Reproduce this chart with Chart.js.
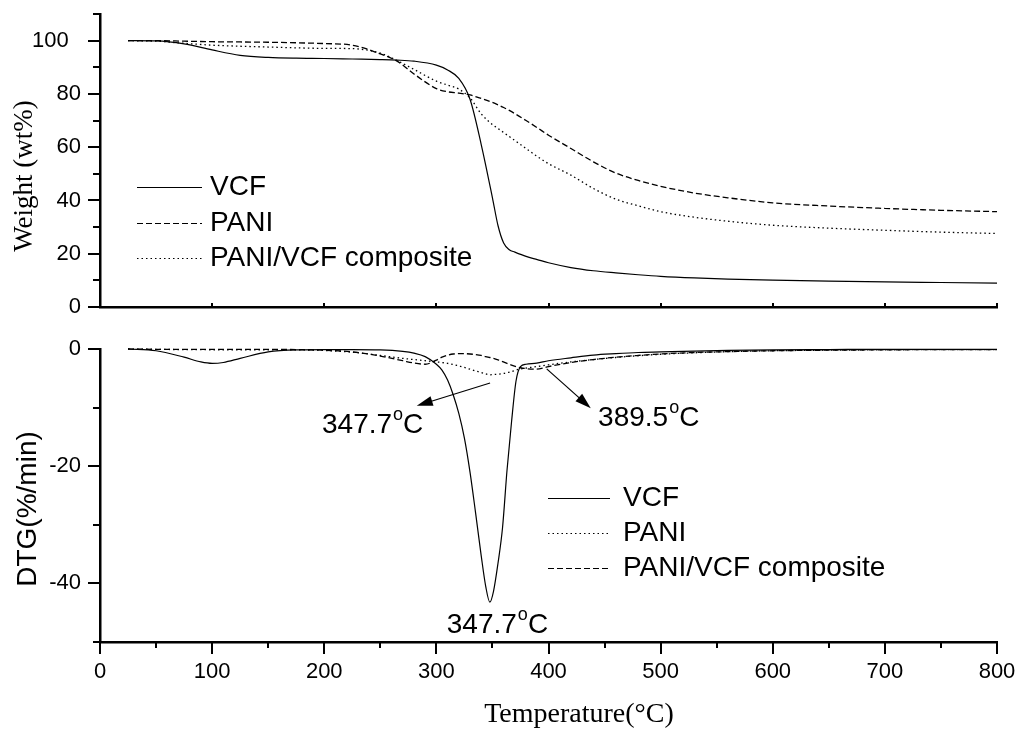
<!DOCTYPE html>
<html>
<head>
<meta charset="utf-8">
<script src="https://cdn.jsdelivr.net/npm/chart.js@4.4.1/dist/chart.umd.min.js"></script>
<style>
  html, body { margin: 0; padding: 0; background: #fff; }
  #wrap { position: relative; width: 1016px; height: 730px; }
  canvas { position: absolute; left: 0; }
</style>
</head>
<body>
<div id="wrap">
  <canvas id="tga" width="1016" height="320" style="top:0"></canvas>
  <canvas id="dtg" width="1016" height="410" style="top:320px"></canvas>
</div>
<script>
// TGA curves (weight %)
const tgaTemp = [25, 50, 75, 100, 125, 150, 175, 200, 225, 250, 265, 280, 300, 310, 320, 330, 340, 350, 355, 360,
  365, 370, 380, 390, 400, 420, 440, 460, 480, 500, 530, 560, 600, 650, 700, 750, 800];
const tgaVCF = [100, 99.9, 98.8, 96.5, 94.5, 93.7, 93.4, 93.3, 93.1, 92.9, 92.7, 92.3, 90.8, 89.0, 85.8, 78.0, 61.0, 41.0, 30.5, 24.0,
  21.5, 20.6, 19.0, 17.8, 16.6, 14.8, 13.6, 12.8, 12.1, 11.5, 10.9, 10.5, 10.1, 9.7, 9.4, 9.2, 9.0];
const tgaPANI = [100, 100, 99.8, 99.6, 99.5, 99.4, 99.2, 98.9, 98.3, 95.0, 92.3, 87.5, 82.0, 80.8, 80.3, 79.6, 78.3, 76.8, 75.9, 74.9,
  73.8, 72.6, 70.0, 67.3, 64.5, 59.5, 54.5, 50.3, 47.5, 45.3, 42.8, 41.0, 39.1, 37.9, 37.0, 36.3, 35.8];
const tgaComposite = [100, 99.8, 99.0, 98.3, 97.9, 97.6, 97.3, 97.1, 97.0, 95.3, 92.5, 89.2, 84.8, 83.3, 81.8, 78.5, 72.5, 68.5, 67.0, 65.5,
  64.0, 62.5, 59.5, 56.5, 53.8, 49.5, 44.5, 40.5, 38.0, 35.8, 33.7, 32.2, 30.7, 29.6, 28.8, 28.1, 27.6];

// DTG curves (%/min)
const dtgTemp = [25, 50, 75, 90, 100, 110, 125, 150, 175, 200, 225, 250, 270, 280, 290, 300, 305, 310, 315, 320,
  325, 330, 335, 340, 344, 347.7, 351, 355, 359, 363, 367, 371, 375, 380, 389.5, 400, 420, 440, 460, 480,
  500, 530, 560, 600, 650, 700, 750, 800];
const dtgVCF = [0, -0.3, -1.4, -2.2, -2.45, -2.3, -1.6, -0.5, -0.15, -0.1, -0.1, -0.15, -0.4, -0.7, -1.3, -2.6, -3.6, -5.3, -7.8, -11,
  -15.2, -21, -28, -35.3, -40.5, -43.2, -41.3, -36.5, -30.5, -20.7, -12.5, -5.5, -3.0, -2.6, -2.4, -2.0, -1.5, -1.05, -0.8, -0.6,
  -0.5, -0.35, -0.25, -0.15, -0.1, -0.05, -0.05, -0.05];
const dtgPANI = [0, -0.05, -0.1, -0.1, -0.15, -0.15, -0.15, -0.15, -0.15, -0.25, -0.55, -1.1, -1.6, -1.8, -2.0, -2.2, -2.3, -2.45, -2.65, -2.9,
  -3.15, -3.45, -3.75, -4.0, -4.25, -4.4, -4.35, -4.3, -4.2, -4.05, -3.85, -3.6, -3.4, -3.25, -3.0, -2.7, -2.2, -1.8, -1.45, -1.15,
  -0.9, -0.65, -0.45, -0.3, -0.2, -0.15, -0.1, -0.1];
const dtgComposite = [0, -0.05, -0.05, -0.05, -0.05, -0.05, -0.05, -0.05, -0.1, -0.2, -0.5, -1.2, -2.0, -2.4, -2.6, -1.9, -1.4, -1.05, -0.85, -0.8,
  -0.8, -0.85, -0.95, -1.1, -1.3, -1.45, -1.6, -1.85, -2.15, -2.45, -2.75, -3.0, -3.2, -3.35, -3.45, -3.0, -2.3, -1.8, -1.4, -1.1,
  -0.85, -0.6, -0.45, -0.3, -0.2, -0.15, -0.1, -0.1];

const seriesNames = ['VCF', 'PANI', 'PANI/VCF composite'];
const peakLabels = ['347.7', '389.5', '347.7'];

const SOLID = [], DASH = [6, 3], DOT = [1.5, 3];

function pts(xs, ys) { return xs.map((x, i) => ({ x: x, y: ys[i] })); }

function line(label, xs, ys, dash) {
  return {
    label: label, data: pts(xs, ys), borderColor: '#000', borderWidth: dash.length ? 1.3 : 1.2,
    borderDash: dash, pointRadius: 0, pointHoverRadius: 0, cubicInterpolationMode: 'monotone', fill: false, clip: false
  };
}

// extra tick marks (major + minor) drawn along the axes
const axisTicks = {
  id: 'axisTicks',
  afterDraw(chart, args, o) {
    const { ctx, chartArea: a, scales: { x, y } } = chart;
    ctx.save();
    ctx.strokeStyle = '#000';
    ctx.lineWidth = 2;
    ctx.beginPath();
    for (let v = y.min; v <= y.max + 1e-9; v += 10) {
      const py = Math.round(y.getPixelForValue(v));
      const len = (v % 20 === 0) ? 12 : 7;
      ctx.moveTo(a.left, py); ctx.lineTo(a.left - len, py);
    }
    for (let v = 0; v <= 800; v += o.step) {
      const px = Math.round(x.getPixelForValue(v));
      const len = (v % 100 === 0) ? o.major : o.minor;
      ctx.moveTo(px, a.bottom); ctx.lineTo(px, a.bottom + o.dir * len);
    }
    ctx.stroke();
    ctx.restore();
  }
};

// legend + titles + annotations
function drawLegend(ctx, items, x0, x1, xt, ys) {
  ctx.save();
  ctx.strokeStyle = '#000';
  ctx.fillStyle = '#000';
  ctx.lineWidth = 1.2;
  ctx.font = '28px "Liberation Sans", Arial, sans-serif';
  ctx.textBaseline = 'middle';
  ctx.textAlign = 'left';
  items.forEach((it, i) => {
    ctx.setLineDash(it.dash);
    ctx.beginPath();
    ctx.moveTo(x0, ys[i] + 0.5); ctx.lineTo(x1, ys[i] + 0.5);
    ctx.stroke();
    ctx.fillText(it.text, xt, ys[i]);
  });
  ctx.restore();
}

function drawTemp(ctx, num, x, y) {
  ctx.save();
  ctx.fillStyle = '#000';
  ctx.textBaseline = 'alphabetic';
  ctx.textAlign = 'left';
  ctx.font = '28px "Liberation Sans", Arial, sans-serif';
  ctx.fillText(num, x, y);
  const w = ctx.measureText(num).width;
  ctx.font = '18px "Liberation Sans", Arial, sans-serif';
  ctx.fillText('o', x + w + 1, y - 13);
  const wo = ctx.measureText('o').width;
  ctx.font = '28px "Liberation Sans", Arial, sans-serif';
  ctx.fillText('C', x + w + wo + 1, y);
  ctx.restore();
}

function drawArrow(ctx, x1, y1, x2, y2) {
  const ang = Math.atan2(y2 - y1, x2 - x1);
  const L = 16, W = 5;
  ctx.save();
  ctx.strokeStyle = '#000';
  ctx.fillStyle = '#000';
  ctx.lineWidth = 1.2;
  ctx.beginPath();
  ctx.moveTo(x1, y1);
  ctx.lineTo(x2 - L * 0.8 * Math.cos(ang), y2 - L * 0.8 * Math.sin(ang));
  ctx.stroke();
  ctx.beginPath();
  ctx.moveTo(x2, y2);
  ctx.lineTo(x2 - L * Math.cos(ang) + W * Math.sin(ang), y2 - L * Math.sin(ang) - W * Math.cos(ang));
  ctx.lineTo(x2 - L * Math.cos(ang) - W * Math.sin(ang), y2 - L * Math.sin(ang) + W * Math.cos(ang));
  ctx.closePath();
  ctx.fill();
  ctx.restore();
}

const tgaDecor = {
  id: 'tgaDecor',
  afterDraw(chart) {
    const ctx = chart.ctx;
    drawLegend(ctx, [
      { text: seriesNames[0], dash: SOLID },
      { text: seriesNames[1], dash: DASH },
      { text: seriesNames[2], dash: DOT }
    ], 137, 202, 210, [187, 223, 258]);
    ctx.save();
    ctx.fillStyle = '#000';
    ctx.translate(25, 176);
    ctx.rotate(-Math.PI / 2);
    ctx.font = '27px "Liberation Serif", "Times New Roman", serif';
    ctx.textAlign = 'center';
    ctx.textBaseline = 'middle';
    ctx.fillText('Weight (wt%)', 0, 0);
    ctx.restore();
  }
};

const dtgDecor = {
  id: 'dtgDecor',
  afterDraw(chart) {
    const ctx = chart.ctx;
    const { x, y } = chart.scales;
    const X = v => x.getPixelForValue(v), Y = v => y.getPixelForValue(v);
    drawLegend(ctx, [
      { text: seriesNames[0], dash: SOLID },
      { text: seriesNames[1], dash: DOT },
      { text: seriesNames[2], dash: DASH }
    ], 548, 610, 623, [178, 213, 248]);

    drawArrow(ctx, X(347.9), Y(-5.8), X(282.5), Y(-9.7));
    drawArrow(ctx, X(398.4), Y(-3.4), X(437.7), Y(-10.1));
    drawTemp(ctx, peakLabels[0], X(198), Y(-14.3));
    drawTemp(ctx, peakLabels[1], X(444.2), Y(-13.1));
    drawTemp(ctx, peakLabels[2], X(309.3), Y(-48.4));

    ctx.save();
    ctx.fillStyle = '#000';
    ctx.font = '28px "Liberation Serif", "Times New Roman", serif';
    ctx.textAlign = 'center';
    ctx.textBaseline = 'alphabetic';
    ctx.fillText('Temperature(\u00B0C)', 579, 402);
    ctx.translate(28, 189);
    ctx.rotate(-Math.PI / 2);
    ctx.font = '28px "Liberation Sans", Arial, sans-serif';
    ctx.textBaseline = 'middle';
    ctx.fillText('DTG(%/min)', 0, 0);
    ctx.restore();
  }
};

const tickFont = { family: '"Liberation Sans", Arial, sans-serif', size: 22 };

function noPad(s) { s.paddingTop = 0; s.paddingBottom = 0; s.paddingLeft = 0; s.paddingRight = 0; }

function xScale(showLabels, height) {
  return {
    type: 'linear', min: 0, max: 800,
    ticks: { display: showLabels, stepSize: 100, color: '#000', font: tickFont, padding: 17, maxRotation: 0,
      callback: v => String(v) },
    grid: { display: false, drawTicks: false },
    border: { display: true, color: '#000', width: 2.5 },
    afterFit: s => { s.height = height; noPad(s); }
  };
}

function yScale(min, max, fmt) {
  return {
    type: 'linear', min: min, max: max,
    ticks: { stepSize: 10, color: '#000', font: tickFont, padding: 19, callback: fmt },
    grid: { display: false, drawTicks: false },
    border: { display: true, color: '#000', width: 2.5 },
    afterFit: s => { s.width = 100; noPad(s); }
  };
}

new Chart(document.getElementById('tga'), {
  type: 'line',
  data: {
    datasets: [
      line(seriesNames[0], tgaTemp, tgaVCF, SOLID),
      line(seriesNames[1], tgaTemp, tgaPANI, DASH),
      line(seriesNames[2], tgaTemp, tgaComposite, DOT)
    ]
  },
  options: {
    responsive: false, animation: false,
    layout: { padding: { top: 14, right: 19, bottom: 13, left: 0 } },
    plugins: { legend: { display: false }, tooltip: { enabled: false },
      axisTicks: { step: 100, major: -4, minor: 0, dir: 1 } },
    scales: {
      x: xScale(false, 0),
      y: yScale(0, 110, v => (v % 20 === 0 ? (v === 100 ? '100  ' : String(v)) : ''))
    }
  },
  plugins: [axisTicks, tgaDecor]
});

new Chart(document.getElementById('dtg'), {
  type: 'line',
  data: {
    datasets: [
      line(seriesNames[0], dtgTemp, dtgVCF, SOLID),
      line(seriesNames[1], dtgTemp, dtgPANI, DOT),
      line(seriesNames[2], dtgTemp, dtgComposite, DASH)
    ]
  },
  options: {
    responsive: false, animation: false,
    layout: { padding: { top: 29, right: 19, bottom: 0, left: 0 } },
    plugins: { legend: { display: false }, tooltip: { enabled: false },
      axisTicks: { step: 50, major: 12, minor: 6, dir: 1 } },
    scales: {
      x: xScale(true, 88),
      y: yScale(-50, 0, v => (v % 20 === 0 ? String(v) : ''))
    }
  },
  plugins: [axisTicks, dtgDecor]
});
</script>
</body>
</html>
